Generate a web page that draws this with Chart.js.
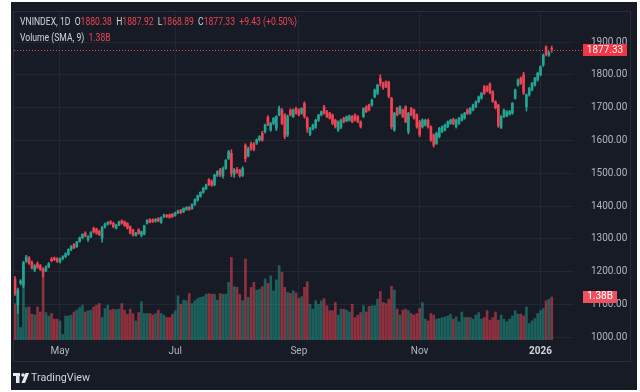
<!DOCTYPE html>
<html>
<head>
<meta charset="utf-8">
<script src="https://cdn.jsdelivr.net/npm/chart.js@4.4.1/dist/chart.umd.min.js"></script>
<style>
  html, body { margin: 0; padding: 0; background: #ffffff; }
  #wrap { position: relative; width: 640px; height: 392px; }
  canvas { display: block; }
</style>
</head>
<body>
<div id="wrap"><canvas id="c" width="640" height="392"></canvas></div>
<script>
// ---- Data ----
const symbolName = "VNINDEX, 1D";
const volumeLabel = "Volume (SMA, 9)";
const tickIndex = [16, 57, 101, 144, 187];
const tickLabels = ["May", "Jul", "Sep", "Nov", "2026"];
const priceTicks = [1000, 1100, 1200, 1300, 1400, 1500, 1600, 1700, 1800, 1900];

const openP = [
1178,1100,1165,1158,1232,1242,1229,1205,1225,1218,1208,1203,1215,1238,1242,1240,1230,1240,1246,1253,
1268,1283,1276,1292,1304,1318,1298,1307,1332,1330,1323,1302,1337,1345,1352,1348,1333,1342,1355,1352,
1347,1337,1327,1311,1328,1312,1315,1348,1359,1358,1354,1362,1350,1368,1372,1373,1375,
1372,1380,1387,1383,1390,1396,1393,1405,1418,1430,1442,1453,1480,1476,1465,1494,1510,1492,1515,1545,1561,
1497,1512,1508,1494,1585,1553,1590,1590,1592,1602,1622,1627,1671,1632,1652,1637,1678,1693,1678,1617,1693,1673,1698,
1693,1683,1713,1668,1620,1635,1640,1662,1678,1703,1688,1683,1678,1662,1632,1640,1668,1660,1662,1673,
1678,1673,1657,1673,1703,1708,1708,1733,1744,1790,1774,1779,1778,1729,1632,1698,1683,1693,1703,1627,
1698,1693,1678,
1657,1642,1647,1662,1642,1617,1591,1612,1627,1632,1642,1652,1665,1642,1652,1662,1668,1693,1683,1693,
1703,1718,1729,1764,1764,1772,1749,1718,1708,1640,1673,1675,1680,1683,1729,1769,1790,1800,1703,1739,
1754,1769,1784,1800,1830,1885,1860,1880.38
];
const highP = [
1185,1150,1176,1232,1250,1246,1233,1222,1230,1222,1212,1218,1228,1244,1245,1243,1242,1249,1258,1270,
1280,1286,1293,1306,1316,1322,1310,1322,1336,1333,1327,1338,1348,1353,1356,1351,1345,1354,1358,1355,
1350,1340,1330,1320,1331,1324,1342,1359,1362,1361,1362,1365,1367,1376,1375,1376,1378,
1382,1388,1390,1395,1398,1399,1407,1422,1434,1444,1457,1467,1484,1480,1497,1508,1515,1520,1542,1570,1572,
1515,1518,1512,1520,1590,1580,1595,1594,1605,1615,1628,1650,1676,1655,1670,1676,1705,1697,1682,1678,1697,1696,1702,
1697,1700,1718,1672,1640,1650,1665,1680,1690,1707,1692,1686,1681,1665,1660,1665,1671,1675,1678,1676,
1681,1676,1660,1700,1706,1711,1726,1757,1772,1800,1778,1782,1781,1732,1686,1701,1706,1696,1706,1686,
1701,1696,1681,
1662,1666,1665,1666,1645,1620,1626,1640,1645,1650,1660,1665,1668,1665,1671,1681,1686,1697,1701,1711,
1721,1736,1747,1768,1767,1776,1752,1721,1711,1676,1696,1691,1692,1716,1757,1788,1794,1808,1742,1762,
1777,1793,1808,1828,1864,1889,1872,1887.92
];
const lowP = [
1128,1073,1160,1152,1228,1222,1208,1200,1210,1204,1185,1200,1212,1230,1234,1228,1226,1236,1243,1250,
1264,1270,1274,1290,1300,1306,1292,1304,1318,1314,1310,1290,1333,1342,1344,1334,1330,1340,1345,1338,
1330,1315,1308,1308,1314,1306,1312,1345,1349,1350,1351,1352,1347,1365,1365,1363,1365,
1369,1377,1377,1380,1387,1387,1390,1402,1415,1427,1439,1450,1462,1460,1462,1490,1490,1485,1512,1542,1490,
1488,1500,1488,1490,1535,1550,1570,1568,1588,1598,1598,1622,1645,1628,1648,1630,1675,1648,1605,1612,1675,1670,1680,
1675,1680,1668,1625,1615,1632,1637,1658,1675,1680,1670,1665,1648,1638,1628,1636,1654,1657,1659,1654,
1659,1654,1638,1670,1685,1690,1705,1730,1740,1766,1756,1761,1730,1635,1628,1675,1680,1670,1654,1620,
1675,1665,1638,
1612,1638,1644,1638,1597,1580,1588,1608,1624,1629,1639,1649,1648,1638,1649,1659,1665,1679,1680,1690,
1700,1715,1726,1740,1748,1742,1716,1696,1640,1636,1670,1672,1677,1680,1726,1766,1771,1740,1690,1735,
1751,1766,1781,1797,1826,1858,1856,1868.89
];
const closeP = [
1133,1145,1172,1228,1245,1226,1212,1218,1213,1207,1199,1215,1225,1233,1237,1232,1240,1246,1255,1268,
1277,1273,1291,1304,1314,1309,1307,1320,1322,1317,1313,1335,1346,1350,1347,1337,1342,1352,1348,1341,
1333,1318,1312,1318,1317,1322,1340,1357,1351,1352,1360,1355,1365,1373,1368,1366,1368,
1380,1385,1380,1393,1396,1390,1405,1420,1432,1442,1455,1465,1466,1464,1495,1505,1496,1515,1540,1566,1500,
1510,1503,1492,1515,1545,1575,1576,1573,1602,1612,1601,1647,1647,1652,1668,1673,1698,1652,1612,1673,1678,1693,1683,
1678,1698,1673,1637,1637,1647,1662,1678,1688,1683,1673,1668,1652,1642,1657,1662,1657,1672,1675,1657,
1662,1657,1642,1698,1688,1693,1723,1754,1769,1775,1760,1765,1735,1642,1683,1678,1703,1673,1657,1683,
1678,1668,1642,
1617,1662,1662,1642,1601,1586,1622,1637,1642,1647,1657,1662,1652,1662,1668,1678,1683,1683,1698,1708,
1718,1733,1744,1744,1752,1746,1720,1700,1645,1673,1693,1688,1688,1713,1754,1784,1775,1745,1739,1759,
1774,1790,1805,1825,1860,1862,1867.9,1877.33
];
// volume in billions of shares
const volumeB = [
1.17,1.58,0.40,1.74,1.04,1.06,0.83,0.80,1.06,0.90,2.23,0.88,0.77,0.85,0.67,0.67,0.61,0.18,0.77,0.77,
0.80,0.90,0.96,1.04,1.12,0.90,0.94,0.96,1.06,1.12,1.17,0.72,1.01,1.12,0.96,0.99,0.97,0.99,1.17,0.96,
0.83,0.99,0.85,0.61,0.88,1.23,0.85,0.85,0.85,0.80,0.85,0.96,0.85,0.80,0.72,0.72,0.83,0.94,
1.42,1.15,1.28,1.26,1.49,1.17,1.26,1.33,1.37,1.39,1.47,1.49,1.47,1.47,1.28,1.49,1.47,1.47,1.85,2.65,
1.71,1.69,1.47,1.26,2.60,1.37,1.69,1.85,1.60,1.63,1.71,1.96,1.82,2.06,1.58,1.93,2.39,2.17,1.69,1.53,
1.49,1.58,
1.51,1.33,1.39,1.69,1.87,1.15,0.99,1.26,1.15,1.26,1.33,1.10,0.94,0.94,1.20,0.80,0.99,0.99,
0.96,0.90,1.15,0.72,0.80,0.88,1.10,0.90,1.08,1.10,1.10,1.31,1.56,1.20,1.17,1.31,1.72,1.60,0.99,0.80,
0.96,0.99,0.94,0.85,0.80,0.85,1.01,1.20,0.67,0.61,0.85,0.80,0.67,0.69,0.72,0.74,0.77,0.83,0.67,
0.74,0.58,0.90,0.72,0.72,0.72,0.67,0.80,0.88,0.67,0.72,0.94,0.64,0.72,0.90,0.64,0.80,0.67,0.58,
0.67,0.77,0.94,0.83,0.83,0.77,1.06,0.53,0.61,0.69,0.85,0.94,1.01,1.26,1.31,1.38
];

// ---- Styles ----
const UP = '#22a592', DOWN = '#ef4353';
const UP_V = 'rgba(34,165,146,0.5)', DOWN_V = 'rgba(239,67,83,0.55)';
const BG = '#171b26', GRID = '#232733', TXT = '#b2b5be', LIGHT = '#d1d4dc';
const FONT = 'Roboto, "DejaVu Sans", sans-serif';

const isUp = i => closeP[i] >= openP[i];
const n = closeP.length;

const volData = volumeB.map((v, i) => ({x: i, y: v}));
const wickData = highP.map((h, i) => ({x: i, y: [lowP[i], h]}));
const bodyData = openP.map((o, i) => ({x: i, y: [o, closeP[i]]}));

const last = n - 1;
const fmt = v => v.toFixed(2);
const change = closeP[last] - closeP[last - 1];
const changePct = change / closeP[last - 1] * 100;
const labelFor = v => { const k = tickIndex.indexOf(v); return k >= 0 ? tickLabels[k] : ''; };
const isYear = c => !!(c && c.tick && labelFor(c.tick.value) === '2026');

const bgPlugin = {
  id: 'bg',
  beforeDraw(chart) {
    const ctx = chart.ctx;
    ctx.save();
    ctx.fillStyle = '#ffffff';
    ctx.fillRect(0, 0, 640, 392);
    ctx.fillStyle = BG;
    ctx.fillRect(11, 2, 626, 388);
    ctx.strokeStyle = '#2a2e39';
    ctx.lineWidth = 1;
    ctx.strokeRect(13.5, 11.5, 617, 350);
    ctx.restore();
  }
};

function drawSegs(ctx, segs, x, y, s) {
  ctx.save();
  ctx.translate(x, y);
  ctx.scale(s, 1);
  let cx = 0;
  for (const sg of segs) {
    ctx.fillStyle = sg.c;
    ctx.fillText(sg.t, cx, 0);
    cx += ctx.measureText(sg.t).width;
  }
  ctx.restore();
}

const overlayPlugin = {
  id: 'overlay',
  afterDraw(chart) {
    const ctx = chart.ctx;
    const ys = chart.scales.y, yv = chart.scales.yv, ca = chart.chartArea;
    ctx.save();
    // price line
    const py = Math.round(ys.getPixelForValue(closeP[last])) + 0.5;
    ctx.strokeStyle = DOWN;
    ctx.lineWidth = 1;
    ctx.setLineDash([1, 2]);
    ctx.beginPath();
    ctx.moveTo(ca.left, py);
    ctx.lineTo(584, py);
    ctx.stroke();
    ctx.setLineDash([]);
    // price tag
    ctx.fillStyle = '#f23645';
    ctx.fillRect(583, py - 6.5, 44, 12);
    ctx.fillStyle = '#ffffff';
    ctx.font = '10px ' + FONT;
    ctx.textAlign = 'center';
    ctx.textBaseline = 'middle';
    ctx.fillText(fmt(closeP[last]), 605, py);
    // volume tag
    const vy = yv.getPixelForValue(volumeB[last]);
    ctx.fillStyle = '#f0505e';
    ctx.fillRect(583, vy - 6, 34, 12);
    ctx.fillStyle = '#ffffff';
    ctx.fillText(volumeB[last].toFixed(2) + 'B', 600, vy);

    // header legend
    ctx.textAlign = 'left';
    ctx.textBaseline = 'middle';
    ctx.font = '11px ' + FONT;
    const line1 = [
      {t: symbolName + '  ', c: LIGHT},
      {t: 'O', c: LIGHT}, {t: fmt(openP[last]), c: DOWN},
      {t: '  H', c: LIGHT}, {t: fmt(highP[last]), c: DOWN},
      {t: '  L', c: LIGHT}, {t: fmt(lowP[last]), c: DOWN},
      {t: '  C', c: LIGHT}, {t: fmt(closeP[last]), c: DOWN},
      {t: '  ' + (change >= 0 ? '+' : '') + change.toFixed(2) + ' (' + (changePct >= 0 ? '+' : '') + changePct.toFixed(2) + '%)', c: DOWN}
    ];
    let w1 = 0;
    for (const sg of line1) w1 += ctx.measureText(sg.t).width;
    const s = 277 / w1;
    drawSegs(ctx, line1, 20, 22, s);
    drawSegs(ctx, [{t: volumeLabel + '  ', c: LIGHT}, {t: volumeB[last].toFixed(2) + 'B', c: DOWN}], 20, 38, s);

    // TradingView logo
    ctx.fillStyle = '#e8e9ec';
    ctx.fillRect(13, 373, 7, 3);
    ctx.fillRect(16, 373, 3.5, 10);
    ctx.beginPath();
    ctx.arc(23, 375, 1.8, 0, Math.PI * 2);
    ctx.fill();
    ctx.beginPath();
    ctx.moveTo(25.5, 373); ctx.lineTo(29, 373); ctx.lineTo(25, 383); ctx.lineTo(21.5, 383);
    ctx.closePath(); ctx.fill();
    ctx.font = '11px ' + FONT;
    const tw = ctx.measureText('TradingView').width;
    ctx.save();
    ctx.translate(31, 378.5);
    ctx.scale(59 / tw, 1);
    ctx.fillStyle = LIGHT;
    ctx.fillText('TradingView', 0, 0);
    ctx.restore();
    ctx.restore();
  }
};

new Chart(document.getElementById('c'), {
  type: 'bar',
  data: {
    datasets: [
      {
        label: 'Volume', data: volData, yAxisID: 'yv', order: 3,
        backgroundColor: volData.map((d, i) => isUp(i) ? UP_V : DOWN_V),
        barThickness: 2, grouped: false, borderWidth: 0
      },
      {
        label: 'Wick', data: wickData, yAxisID: 'y', order: 2,
        backgroundColor: wickData.map((d, i) => isUp(i) ? UP : DOWN),
        barThickness: 1, grouped: false, borderWidth: 0, borderSkipped: false
      },
      {
        label: 'Body', data: bodyData, yAxisID: 'y', order: 1,
        backgroundColor: bodyData.map((d, i) => isUp(i) ? UP : DOWN),
        barThickness: 2, grouped: false, borderWidth: 0, borderSkipped: false, minBarLength: 1
      }
    ]
  },
  options: {
    responsive: false,
    animation: false,
    devicePixelRatio: 1,
    layout: { autoPadding: false, padding: { left: 14, top: 14, right: 10, bottom: 30 } },
    plugins: { legend: { display: false }, tooltip: { enabled: false } },
    scales: {
      x: {
        type: 'linear', min: -0.36, max: 198.93, offset: false,
        afterBuildTicks: sc => { sc.ticks = tickIndex.map(v => ({value: v})); },
        afterFit: sc => { sc.height = 22; sc.paddingLeft = 0; sc.paddingRight = 0; },
        ticks: {
          autoSkip: false, maxRotation: 0, padding: 5,
          color: c => isYear(c) ? LIGHT : TXT,
          font: c => ({ size: 10, family: FONT, weight: isYear(c) ? 'bold' : 'normal' }),
          callback: v => labelFor(v)
        },
        grid: { color: GRID, drawTicks: false, offset: false },
        border: { display: false }
      },
      y: {
        type: 'linear', position: 'right', min: 991.8, max: 1985.7,
        afterBuildTicks: sc => { sc.ticks = priceTicks.map(v => ({value: v})); },
        afterFit: sc => { sc.width = 56; sc.paddingTop = 0; sc.paddingBottom = 0; },
        ticks: { padding: 17, color: TXT, font: { size: 10, family: FONT }, callback: v => Number(v).toFixed(2) },
        grid: { color: GRID, drawTicks: false },
        border: { display: false }
      },
      yv: { type: 'linear', display: false, min: 0, max: 10.46 }
    }
  },
  plugins: [bgPlugin, overlayPlugin]
});
</script>
</body>
</html>
